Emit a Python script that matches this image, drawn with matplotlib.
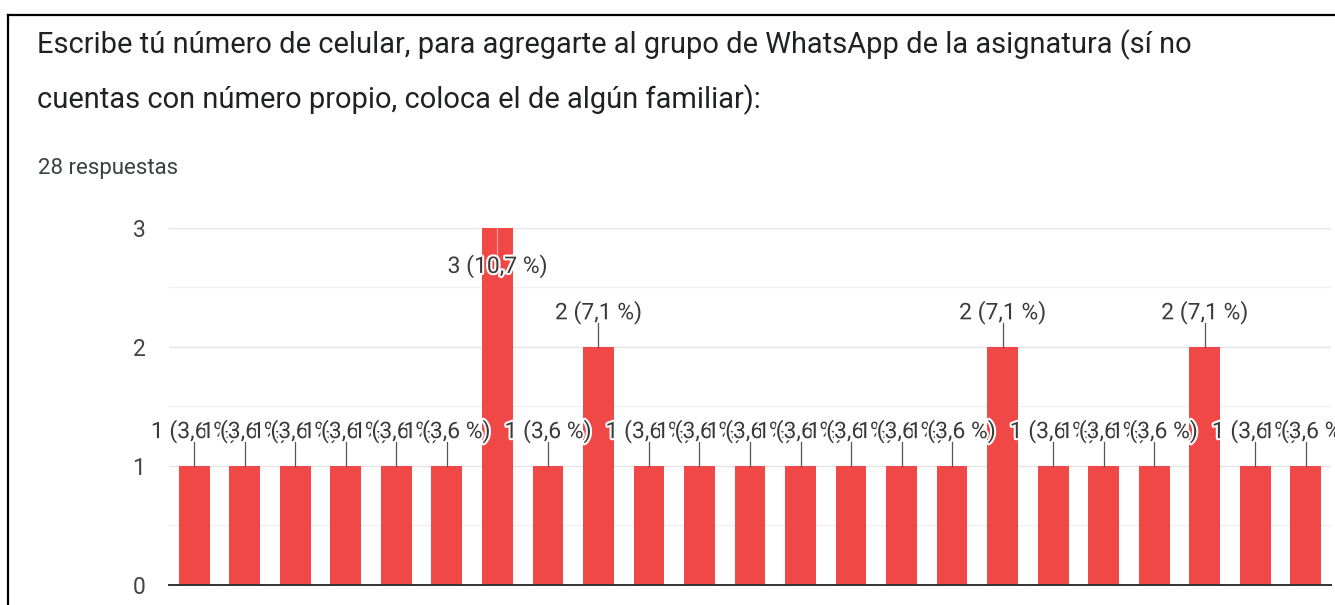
import matplotlib
matplotlib.use("Agg")
import matplotlib.pyplot as plt
import matplotlib.patheffects as pe
from matplotlib.lines import Line2D

# ---- data ----
title_lines = [
    "Escribe tú número de celular, para agregarte al grupo de WhatsApp de la asignatura (sí no",
    "cuentas con número propio, coloca el de algún familiar):",
]
subtitle = "28 respuestas"
values = [1, 1, 1, 1, 1, 1, 3, 1, 2, 1, 1, 1, 1, 1, 1, 1, 2, 1, 1, 1, 2, 1, 1]
categories = list(range(len(values)))
yticks = [0, 1, 2, 3]
total = 28

# ---- style ----
W, H = 1335, 605
BAR = "#F04747"
FONT = "Roboto"
plt.rcParams["font.family"] = [FONT, "DejaVu Sans"]

fig = plt.figure(figsize=(W / 100, H / 100), dpi=100)
fig.patch.set_facecolor("white")

def fx(px):
    return px / W

def fy(py):
    return 1 - py / H

# border of the screenshot
fig.add_artist(Line2D([fx(8), 1.0], [fy(15), fy(15)], color="black", lw=1.6))
fig.add_artist(Line2D([fx(8), fx(8)], [0, fy(15)], color="black", lw=1.6))

fig.text(fx(37), fy(45), title_lines[0], fontsize=20.9, color="#202124", va="center", ha="left")
fig.text(fx(37), fy(100), title_lines[1], fontsize=20.9, color="#202124", va="center", ha="left")
fig.text(fx(38), fy(168), subtitle, fontsize=16, color="#3c4043", va="center", ha="left")

ax_left, ax_right = 169, 1331
ax_bottom, ax_top = 584.5, 228
ax = fig.add_axes([fx(ax_left), 1 - ax_bottom / H, (ax_right - ax_left) / W, (ax_bottom - ax_top) / H])
ax.set_facecolor("white")

ax.bar(categories, values, width=0.61, color=BAR, zorder=2)

ax.set_xlim(-0.5, len(values) - 0.5)
ax.set_ylim(0, max(yticks))
ax.set_yticks(yticks)
ax.set_yticklabels([str(t) for t in yticks])
ax.set_yticks([0.5, 1.5, 2.5], minor=True)
ax.set_xticks([])
ax.tick_params(axis="y", which="both", length=0, pad=17, labelsize=16.5, labelcolor="#444444")
ax.grid(axis="y", which="major", color="#e4e4e4", lw=1, zorder=0)
ax.grid(axis="y", which="minor", color="#f0f0f0", lw=1, zorder=0)
for s in ["top", "right", "left"]:
    ax.spines[s].set_visible(False)
ax.spines["bottom"].set_color("#333333")
ax.spines["bottom"].set_linewidth(1.4)
ax.spines["bottom"].set_zorder(5)

ymax = max(yticks)
for i, (c, v) in enumerate(zip(categories, values)):
    pct = f"{v / total * 100:.1f}".replace(".", ",")
    label = f"{v} ({pct} %)"
    if v + 0.35 <= ymax:
        ly = v + 0.29
        ax.plot([c, c], [v, v + 0.2], color="#555555", lw=0.9, zorder=3, clip_on=False)
    else:
        ly = v - 0.32
        ax.plot([c, c], [v, v - 0.25], color="#f7a0a0", lw=0.9, zorder=3, clip_on=False)
    ax.text(c, ly, label, ha="center", va="center", fontsize=16.5, color="#3a3a3a",
            zorder=4 + i * 0.01, clip_on=False,
            path_effects=[pe.withStroke(linewidth=3, foreground="white")])

fig.savefig("out.png", dpi=100, facecolor="white")
